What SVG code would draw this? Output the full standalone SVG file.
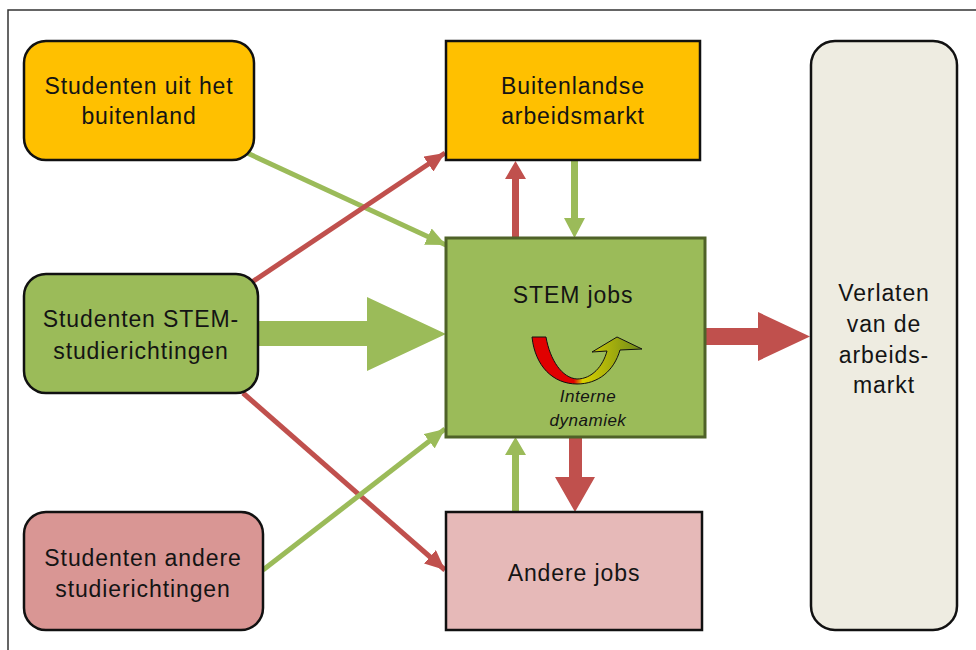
<svg xmlns="http://www.w3.org/2000/svg" width="976" height="650" viewBox="0 0 976 650">
<style>
text{font-family:"Liberation Sans",Arial,sans-serif;font-size:23px;letter-spacing:0.9px;fill:#141414;text-anchor:middle}
.it{font-style:italic;font-size:17px;letter-spacing:0.5px}
.node{stroke:#111;stroke-width:2.5}
.orange{fill:#ffc000}
.green{fill:#9bbb59}
.pink{fill:#d99694}
.lpink{fill:#e6b9b8}
.grey{fill:#eeece1}
.gl{stroke:#9bbb59;stroke-width:5;fill:none}
.rl{stroke:#c0504d;stroke-width:5;fill:none}
.gf{fill:#9bbb59}
.rf{fill:#c0504d}
</style>
<defs>
<marker id="ag" viewBox="0 0 20 18" refX="20" refY="9" markerWidth="20" markerHeight="18" markerUnits="userSpaceOnUse" orient="auto"><path d="M0,0 L20,9 L0,18 Z" fill="#9bbb59"/></marker>
<marker id="ar" viewBox="0 0 20 18" refX="20" refY="9" markerWidth="20" markerHeight="18" markerUnits="userSpaceOnUse" orient="auto"><path d="M0,0 L20,9 L0,18 Z" fill="#c0504d"/></marker>
<linearGradient id="cg" x1="532" y1="0" x2="642" y2="0" gradientUnits="userSpaceOnUse">
<stop offset="0" stop-color="#e00000"/><stop offset="0.38" stop-color="#e00000"/><stop offset="0.46" stop-color="#d8d000"/><stop offset="1" stop-color="#6e8a1a"/>
</linearGradient>
</defs>
<g id="frame" stroke="#333" stroke-width="1.5" fill="none"><path d="M8,650 L8,10 L976,10"/></g>
<g id="connectors">
<line class="gl" x1="245" y1="152" x2="446" y2="245" marker-end="url(#ag)"/>
<line class="rl" x1="252" y1="282" x2="445" y2="153" marker-end="url(#ar)"/>
<line class="rl" x1="243" y1="393" x2="445" y2="570" marker-end="url(#ar)"/>
<line class="gl" x1="263" y1="570" x2="445" y2="429" marker-end="url(#ag)"/>
<path class="gf" d="M259,321 L367,321 L367,297 L446,334 L367,371 L367,346 L259,346 Z"/>
<path class="rf" d="M706,328 L758,328 L758,312 L810,336.5 L758,361 L758,345 L706,345 Z"/>
<path class="rf" d="M512,238 L512,179 L505,179 L515.5,161 L526,179 L519,179 L519,238 Z"/>
<path class="gf" d="M571,160 L571,218 L564,218 L574.5,238 L585,218 L578,218 L578,160 Z"/>
<path class="gf" d="M512,512 L512,455 L505,455 L515.5,437 L526,455 L519,455 L519,512 Z"/>
<path class="rf" d="M569,438 L569,477 L555,477 L575,512 L595,477 L582,477 L582,438 Z"/>
</g>
<g id="n-studenten-buitenland"><rect class="node orange" x="24" y="41" width="230" height="119" rx="22"/><text x="139" y="94">Studenten uit het</text><text x="139" y="124">buitenland</text></g>
<g id="n-buitenlandse-arbeidsmarkt"><rect class="node orange" x="446" y="41" width="254" height="119"/><text x="573" y="94">Buitenlandse</text><text x="573" y="124">arbeidsmarkt</text></g>
<g id="n-verlaten"><rect class="node grey" x="811" y="41" width="146" height="589" rx="24"/><text x="884" y="301">Verlaten</text><text x="884" y="332">van de</text><text x="884" y="363">arbeids-</text><text x="884" y="393">markt</text></g>
<g id="n-studenten-stem"><rect class="node green" x="24" y="274" width="234" height="119" rx="22"/><text x="141" y="327">Studenten STEM-</text><text x="141" y="359">studierichtingen</text></g>
<g id="n-stem-jobs"><rect class="green" x="446" y="238" width="259" height="199" stroke="#4f6228" stroke-width="3"/><text x="573" y="303">STEM jobs</text>
<path d="M532,337 L546,337 C550,360 562,378 577,379 C592,379 603,366 607,351 L592,352 L617,337 L642,349 L620,350 C614,371 598,384 577,384 C553,384 535,366 532,337 Z" fill="url(#cg)" stroke="#111" stroke-width="1"/>
<text class="it" x="588" y="402">Interne</text><text class="it" x="588" y="426">dynamiek</text></g>
<g id="n-studenten-andere"><rect class="node pink" x="24" y="512" width="239" height="118" rx="22"/><text x="143" y="566">Studenten andere</text><text x="143" y="597">studierichtingen</text></g>
<g id="n-andere-jobs"><rect class="node lpink" x="446" y="512" width="256" height="118"/><text x="574" y="581">Andere jobs</text></g>
</svg>
